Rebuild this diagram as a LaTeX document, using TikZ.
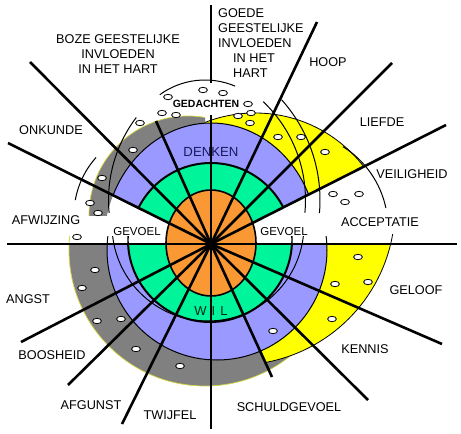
\documentclass[tikz,border=0pt]{standalone}
\usepackage{fontspec}
\setmainfont{Liberation Sans}
\definecolor{org}{RGB}{250,153,51}
\definecolor{grn}{RGB}{0,245,155}
\definecolor{blu}{RGB}{153,153,255}
\definecolor{gry}{RGB}{128,128,128}
\definecolor{ylw}{RGB}{255,255,0}
\definecolor{gryedge}{RGB}{215,215,60}
\definecolor{navy}{RGB}{25,25,90}
\definecolor{wilc}{RGB}{0,40,20}
\tikzset{
  ray/.style={line width=2.6pt},
  thinarc/.style={line width=1pt},
  dot/.style={fill=white,draw=black,line width=0.8pt},
  lbl/.style={font=\fontsize{12.7}{15}\selectfont,inner sep=0pt},
  smlbl/.style={font=\fontsize{11.5}{14}\selectfont,inner sep=0pt},
}
\begin{document}
\begin{tikzpicture}[x=1pt,y=-1pt]
\useasboundingbox (0,0) rectangle (461,434);
\fill[white] (0,0) rectangle (461,434);
\coordinate (c) at (211,244);
% ---------- lower half ----------
\begin{scope}
  \clip (0,244) rectangle (461,434);
  \fill[gry] (205,250) circle (136);
  \draw[gryedge,line width=0.7pt] (205,250) circle (136);
  \begin{scope}
    \clip (211,244) -- (394,643) -- (700,643) -- (700,244) -- cycle;
    \fill[ylw] (237,207) circle (158);
    \draw[line width=0.8pt] (237,207) circle (158);
  \end{scope}
  \fill[blu] (217,250) circle (110);
  \draw[line width=1pt] (217,250) circle (110);
  \fill[grn] (210,240) circle (82);
  \draw[thinarc] (208,225) circle (96);
  \draw[line width=2pt] (210,240) circle (82);
\end{scope}
% ticks of lower rings above the axis
\begin{scope}
  \clip (0,236) rectangle (211,244);
  \draw[gryedge,line width=0.8pt] (205,250) circle (136);
\end{scope}
\begin{scope}
  \clip (0,236) rectangle (461,244);
  \draw[line width=1pt] (217,250) circle (110);
  \draw[thinarc] (208,225) circle (96);
  \draw[line width=1.4pt] (210,240) circle (82);
\end{scope}
\begin{scope}
  \clip (211,234) rectangle (461,244);
  \draw[line width=0.8pt] (237,207) circle (158);
\end{scope}
% ---------- upper half ----------
\begin{scope}
  \clip (0,0) rectangle (461,244);
  \begin{scope}
    \clip (211,244) -- (681,6) -- (681,-300) -- (200,-300) -- (200,244) -- cycle;
    \fill[ylw] (255,250) circle (137);
    \draw[line width=0.8pt] (255,250) circle (137);
  \end{scope}
  \begin{scope}
    \clip (0,0) rectangle (205,215);
    \fill[gry,even odd rule] (188,215) circle (99) (211,244) ellipse [x radius=107,y radius=121];
    \draw[gryedge,line width=0.7pt] (188,215) circle (99);
  \end{scope}
  \begin{scope}
    \clip (211,244) -- (681,6) -- (681,-300) -- (-195,-300) -- (-195,42) -- cycle;
    \fill[blu] (211,244) ellipse [x radius=107,y radius=121];
    \draw[line width=1pt] (211,244) ellipse [x radius=107,y radius=121];
    \fill[grn] (211,244) circle (81);
    \draw[line width=2pt] (211,244) circle (81);
  \end{scope}
\end{scope}
% orange core
\filldraw[fill=org,line width=1.6pt] (211,243) ellipse [x radius=45,y radius=53];
% ---------- thin arcs ----------
\draw[thinarc] (205,157) ++(-126:77) arc[start angle=-126,end angle=-67,radius=77];
\draw[thinarc] (170,200) ++(-46.5:135.5) arc[start angle=-46.5,end angle=5.4,radius=135.5];
\draw[thinarc] (170,200) ++(-42:150) arc[start angle=-42,end angle=5,radius=150];
\draw[thinarc] (292,228) ++(-58:96) arc[start angle=-58,end angle=-12,radius=96];
\draw[thinarc] (245,200) ++(217.2:136.5) arc[start angle=217.2,end angle=174.6,radius=136.5];
\draw[thinarc] (160,215) ++(222:86) arc[start angle=222,end angle=190,radius=86];
% ---------- rays ----------
\coordinate (e0) at (457,244);
\coordinate (e180) at (7,244);
\coordinate (eV) at (446,125);
\coordinate (eL) at (392,63);
\coordinate (eH) at (317,22);
\coordinate (eTa) at (211,115);
\coordinate (eTb) at (211,83);
\coordinate (eTc) at (211,5);
\coordinate (e114) at (156,121);
\coordinate (eB) at (30,62);
\coordinate (eO) at (8,143);
\coordinate (eBo) at (21,342);
\coordinate (eAf) at (68,385);
\coordinate (eTw) at (122,424);
\coordinate (eD) at (211,429);
\coordinate (eS) at (272,377);
\coordinate (eK) at (368,400);
\coordinate (eG) at (442,344);
\foreach \e in {e0,e180,eV,eL,eH,eTa,e114,eB,eO,eBo,eAf,eTw,eD,eS,eK,eG}
  \draw[ray] (c) -- (\e);
\draw[ray] (eTb) -- (eTc);
% ---------- dots ----------
\foreach \p in {(203,90),(223,93),(168,97),(162,113),(176,115),(248,104),(238,116),(251,113),(250,123),
  (140,123),(133,150),(102,178),(90,203),(98,213),(77,237),(278,137),(301,137),(325,152),
  (333,194),(345,202),(359,194),(358,257),(335,284),(368,282),(332,319),(273,331),
  (95,270),(82,288),(97,321),(121,319),(136,349),(180,366)}
  \draw[dot] \p ellipse [x radius=4.4,y radius=2.7];
% ---------- labels ----------
\node[lbl,align=center] (boze) at (118,54) {BOZE GEESTELIJKE\\INVLOEDEN\\IN HET HART};
\node[lbl,anchor=west] (g1) at (218,13) {GOEDE};
\node[lbl,anchor=west] (g2) at (218,28) {GEESTELIJKE};
\node[lbl,anchor=west] (g3) at (218,43) {INVLOEDEN};
\node[lbl,anchor=west] (g4) at (233,58) {IN HET};
\node[lbl,anchor=west] (g5) at (233,73) {HART};
\node[lbl] (hoop) at (328,62) {HOOP};
\node[lbl] (liefde) at (382,122) {LIEFDE};
\node[lbl] (veil) at (412,174) {VEILIGHEID};
\node[lbl] (acc) at (380,222) {ACCEPTATIE};
\node[lbl] (geloof) at (416,290) {GELOOF};
\node[lbl] (kennis) at (365,349) {KENNIS};
\node[lbl] (schuld) at (289,407) {SCHULDGEVOEL};
\node[lbl] (twijfel) at (170,415) {TWIJFEL};
\node[lbl] (afgunst) at (91,405) {AFGUNST};
\node[lbl] (boos) at (52,355) {BOOSHEID};
\node[lbl] (angst) at (28,299) {ANGST};
\node[lbl] (afw) at (46,220) {AFWIJZING};
\node[lbl] (onk) at (51,130) {ONKUNDE};
\node[smlbl] (gvl) at (137,232) {GEVOEL};
\node[smlbl] (gvr) at (284,232) {GEVOEL};
\node[lbl,text=navy,font=\fontsize{13.2}{15}\selectfont] (denken) at (211,152) {DENKEN};
\node[lbl,text=wilc,font=\fontsize{13}{15}\selectfont] (wil) at (211,311) {W\hspace{5pt}I\hspace{5pt}L};
\node[inner sep=0pt,font=\fontsize{10.5}{12}\selectfont\bfseries] (ged) at (206,104) {GEDACHTEN};
\end{tikzpicture}
\end{document}
